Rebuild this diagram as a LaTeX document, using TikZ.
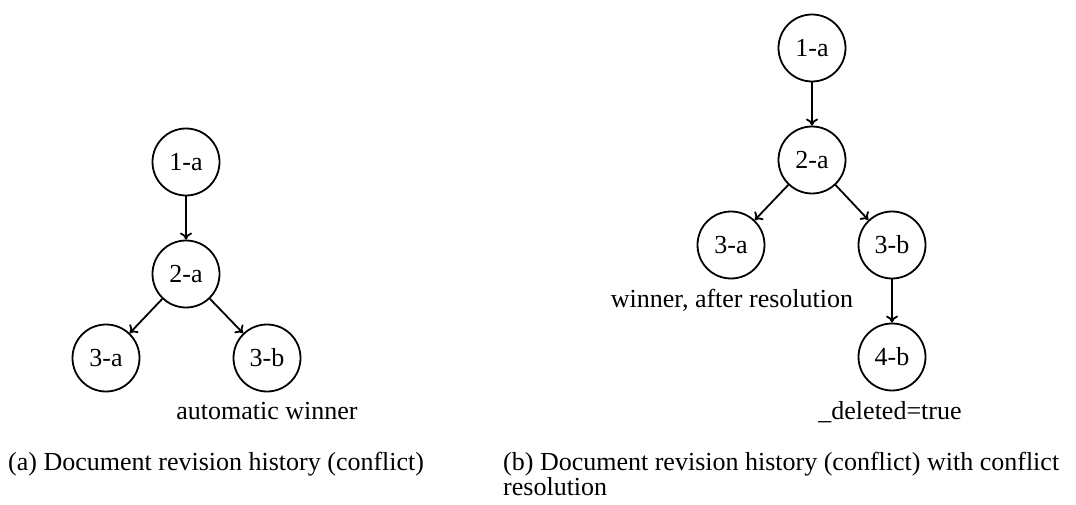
\documentclass[tikz,border=0pt]{standalone}
\usepackage{fontspec}
\setmainfont{Liberation Serif}
\usetikzlibrary{arrows.meta}
\begin{document}
\begin{tikzpicture}[x=1pt,y=-1pt,
  rev/.style={circle,draw,line width=1.8pt,minimum size=67pt,inner sep=0pt,font=\fontsize{26}{30}\selectfont},
  link/.style={line width=1.8pt,-{To[length=7pt,width=12pt]}},
  lbl/.style={anchor=base,inner sep=0pt,font=\fontsize{26}{30}\selectfont},
  captext/.style={anchor=base west,inner sep=0pt,font=\fontsize{26}{30}\selectfont}]
\useasboundingbox (0,0) rectangle (1076,505);
% (a)
\node[rev] (a1) at (186,162) {1-a};
\node[rev] (a2) at (186,274) {2-a};
\node[rev] (a3a) at (106,358) {3-a};
\node[rev] (a3b) at (267,358) {3-b};
\draw[link] (a1) -- (a2);
\draw[link] (a2) -- (a3a);
\draw[link] (a2) -- (a3b);
\node[lbl] (awin) at (267,419) {automatic winner};
% (b)
\node[rev] (b1) at (812,48) {1-a};
\node[rev] (b2) at (812,160) {2-a};
\node[rev] (b3a) at (731,245) {3-a};
\node[rev] (b3b) at (892,245) {3-b};
\node[rev] (b4b) at (892,357) {4-b};
\draw[link] (b1) -- (b2);
\draw[link] (b2) -- (b3a);
\draw[link] (b2) -- (b3b);
\draw[link] (b3b) -- (b4b);
\node[lbl] (bwin) at (732,307) {winner, after resolution};
\node[lbl] (bdel) at (890,419) {\_deleted=true};
% captions
\node[captext] (capa) at (8,470) {(a) Document revision history (conflict)};
\node[captext] (capb) at (503,470) {(b) Document revision history (conflict) with conflict};
\node[captext] (capb2) at (503,495) {resolution};
\end{tikzpicture}
\end{document}
